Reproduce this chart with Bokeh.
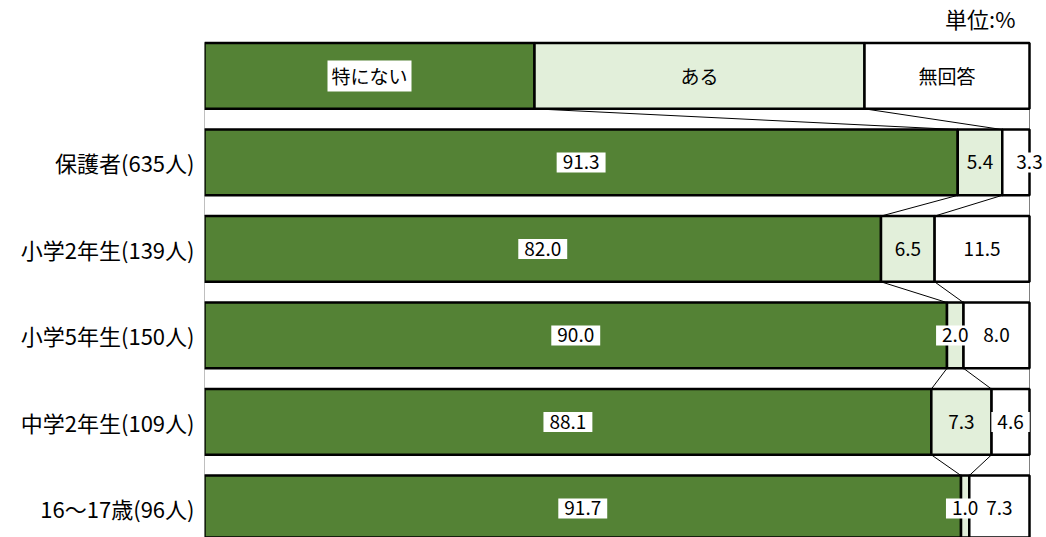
from bokeh.plotting import figure
from bokeh.models import Range1d, FixedTicker, Label, ColumnDataSource
from bokeh.core.properties import value
from bokeh.embed import file_html
from bokeh.resources import INLINE

# ---- data ----
groups = ["保護者(635人)", "小学2年生(139人)", "小学5年生(150人)", "中学2年生(109人)", "16～17歳(96人)"]
nothing = [91.3, 82.0, 90.0, 88.1, 91.7]   # 特にない
some = [5.4, 6.5, 2.0, 7.3, 1.0]           # ある
noans = [3.3, 11.5, 8.0, 4.6, 7.3]         # 無回答
series_names = ["特にない", "ある", "無回答"]
legend_shares = [40, 40, 20]
colors = ["#548235", "#E2EFDA", "#FFFFFF"]
unit_text = "単位:%"

FONT = "Noto Sans CJK JP"
BAR_H = 0.76
HALF = BAR_H / 2
TOP = -HALF - 0.03
PX_PER_X = 8.25   # pixels per percent (825 px for 100 %)

rows = [legend_shares] + [list(v) for v in zip(nothing, some, noans)]

# bars
bx_l, bx_r, by, bc = [], [], [], []
cums = []
for i, vals in enumerate(rows):
    c = 0.0
    cum = []
    for k, v in enumerate(vals):
        bx_l.append(c)
        bx_r.append(c + v)
        by.append(i)
        bc.append(colors[k])
        c += v
        cum.append(c)
    cums.append(cum)

p = figure(width=1046, height=537, output_backend="svg", toolbar_location=None,
           x_range=Range1d(0, 100 + 17 / PX_PER_X), y_range=Range1d(5.336, TOP - 40 / 86.5),
           min_border_left=204, min_border_right=0, min_border_top=0, min_border_bottom=0)
p.outline_line_color = None
p.grid.visible = False
p.xaxis.visible = False
p.background_fill_color = "white"

# frame side lines between rows
n = len(rows)
vx0, vy0, vx1, vy1 = [], [], [], []
for i in range(n):
    for edge in (0, 100):
        vx0.append(edge); vy0.append(i + HALF)
        vx1.append(edge); vy1.append(i + 1 - HALF)
p.segment(x0=vx0, y0=vy0, x1=vx1, y1=vy1, line_color="#808080", line_width=1)

# connector lines
sx0, sy0, sx1, sy1 = [], [], [], []
for i in range(n - 1):
    for k in range(2):
        sx0.append(cums[i][k]); sy0.append(i + HALF)
        sx1.append(cums[i + 1][k]); sy1.append(i + 1 - HALF)
p.segment(x0=sx0, y0=sy0, x1=sx1, y1=sy1, line_color="black", line_width=1)

p.hbar(y=by, left=bx_l, right=bx_r, height=BAR_H, fill_color=bc,
       line_color="black", line_width=2.5)

# labels
box = dict(x=[], y=[], t=[])
plain = dict(x=[], y=[], t=[])
for i, vals in enumerate(rows):
    c = 0.0
    for k, v in enumerate(vals):
        mid = c + v / 2
        left = c
        c += v
        if i == 0:
            txt = series_names[k]
            target = box if k == 0 else plain
        else:
            txt = f"{v:.1f}"
            target = plain if (k == 1 and v >= 3) else box
            # very narrow last segment: label sits on the right edge
            if k == len(vals) - 1 and v < 4:
                mid = c
        target["x"].append(mid); target["y"].append(i); target["t"].append(txt)

def part(d, legend):
    idx = [j for j, yy in enumerate(d["y"]) if (yy == 0) == legend]
    return {key: [d[key][j] for j in idx] for key in d}

common = dict(x="x", y="y", text="t", text_font=value(FONT), text_color="black",
              text_align="center", text_baseline="middle")
p.text(source=ColumnDataSource(part(box, False)), text_font_size="19px",
       background_fill_color="white", padding=dict(x=6, y=3), **common)
p.text(source=ColumnDataSource(part(plain, False)), text_font_size="19px", **common)
p.text(source=ColumnDataSource(part(box, True)), text_font_size="19px",
       background_fill_color="white", padding=dict(x=4, y=2), **common)
p.text(source=ColumnDataSource(part(plain, True)), text_font_size="19px", **common)

p.yaxis.ticker = FixedTicker(ticks=list(range(1, len(groups) + 1)))
p.yaxis.major_label_overrides = {i + 1: g for i, g in enumerate(groups)}
p.yaxis.major_label_text_font = FONT
p.yaxis.major_label_text_font_size = "22px"
p.yaxis.major_label_text_color = "black"
p.yaxis.axis_line_color = None
p.yaxis.major_tick_line_color = None
p.yaxis.minor_tick_line_color = None
p.yaxis.major_tick_out = 0
p.yaxis.major_tick_in = 0
p.yaxis.major_label_standoff = 10

p.add_layout(Label(x=100, y=TOP, text=unit_text, text_align="right", text_baseline="bottom",
                   x_offset=-14, y_offset=6, text_font=FONT, text_font_size="22px",
                   text_color="black"))

open("out.html", "w").write(file_html(p, INLINE))
